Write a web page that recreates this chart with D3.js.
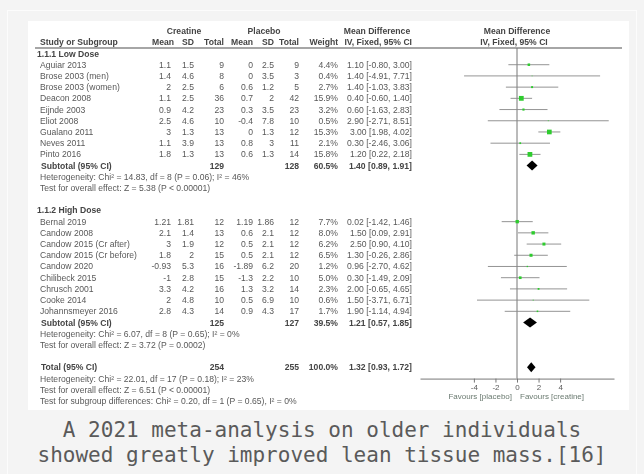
<!DOCTYPE html>
<html>
<head>
<meta charset="utf-8">
<script src="https://cdn.jsdelivr.net/npm/d3@7"></script>
<style>
body { margin: 0; background: #f4f4f4; }
svg { display: block; }
.fig text { font-family: "Liberation Sans", Arial, sans-serif; font-size: 8.6px; fill: #585858; }
.fig text.b { font-weight: bold; fill: #444; }
.fig .axis text { font-size: 8px; fill: #5a5a5a; }
.cap { font-family: "DejaVu Sans Mono", monospace; font-size: 21px; fill: #5a5a5a; }
</style>
</head>
<body>
<svg id="chart" width="644" height="474"></svg>
<script>
// study rows: name, creatine mean/sd/n, placebo mean/sd/n, weight %, MD, lower, upper
const lowDose = [
  ["Aguiar 2013", 1.1, 1.5, 9, 0, 2.5, 9, 4.4, 1.10, -0.80, 3.00],
  ["Brose 2003 (men)", 1.4, 4.6, 8, 0, 3.5, 3, 0.4, 1.40, -4.91, 7.71],
  ["Brose 2003 (women)", 2, 2.5, 6, 0.6, 1.2, 5, 2.7, 1.40, -1.03, 3.83],
  ["Deacon 2008", 1.1, 2.5, 36, 0.7, 2, 42, 15.9, 0.40, -0.60, 1.40],
  ["Eijnde 2003", 0.9, 4.2, 23, 0.3, 3.5, 23, 3.2, 0.60, -1.63, 2.83],
  ["Eliot 2008", 2.5, 4.6, 10, -0.4, 7.8, 10, 0.5, 2.90, -2.71, 8.51],
  ["Gualano 2011", 3, 1.3, 13, 0, 1.3, 12, 15.3, 3.00, 1.98, 4.02],
  ["Neves 2011", 1.1, 3.9, 13, 0.8, 3, 11, 2.1, 0.30, -2.46, 3.06],
  ["Pinto 2016", 1.8, 1.3, 13, 0.6, 1.3, 14, 15.8, 1.20, 0.22, 2.18]
];
const highDose = [
  ["Bernal 2019", 1.21, 1.81, 12, 1.19, 1.86, 12, 7.7, 0.02, -1.42, 1.46],
  ["Candow 2008", 2.1, 1.4, 13, 0.6, 2.1, 12, 8.0, 1.50, 0.09, 2.91],
  ["Candow 2015 (Cr after)", 3, 1.9, 12, 0.5, 2.1, 12, 6.2, 2.50, 0.90, 4.10],
  ["Candow 2015 (Cr before)", 1.8, 2, 15, 0.5, 2.1, 12, 6.5, 1.30, -0.26, 2.86],
  ["Candow 2020", -0.93, 5.3, 16, -1.89, 6.2, 20, 1.2, 0.96, -2.70, 4.62],
  ["Chilibeck 2015", -1, 2.8, 15, -1.3, 2.2, 10, 5.0, 0.30, -1.49, 2.09],
  ["Chrusch 2001", 3.3, 4.2, 16, 1.3, 3.2, 14, 2.3, 2.00, -0.65, 4.65],
  ["Cooke 2014", 2, 4.8, 10, 0.5, 6.9, 10, 0.6, 1.50, -3.71, 6.71],
  ["Johannsmeyer 2016", 2.8, 4.3, 14, 0.9, 4.3, 17, 1.7, 1.90, -1.14, 4.94]
];
// pooled: creatine n, placebo n, weight, MD, lower, upper
const lowSubtotal = [129, 128, 60.5, 1.40, 0.89, 1.91];
const highSubtotal = [125, 127, 39.5, 1.21, 0.57, 1.85];
const overall = [254, 255, 100.0, 1.32, 0.93, 1.72];

const lowStats = ["Heterogeneity: Chi² = 14.83, df = 8 (P = 0.06); I² = 46%", "Test for overall effect: Z = 5.38 (P < 0.00001)"];
const highStats = ["Heterogeneity: Chi² = 6.07, df = 8 (P = 0.65); I² = 0%", "Test for overall effect: Z = 3.72 (P = 0.0002)"];
const totalStats = ["Heterogeneity: Chi² = 22.01, df = 17 (P = 0.18); I² = 23%", "Test for overall effect: Z = 6.51 (P < 0.00001)", "Test for subgroup differences: Chi² = 0.20, df = 1 (P = 0.65), I² = 0%"];

const groupNames = ["1.1.1 Low Dose", "1.1.2 High Dose"];
const colHeaders = ["Mean", "SD", "Total", "Mean", "SD", "Total", "Weight", "IV, Fixed, 95% CI"];
const axisTicks = [-4, -2, 0, 2, 4];
const favours = ["Favours [placebo]", "Favours [creatine]"];
const caption = ["A 2021 meta-analysis on older individuals", "showed greatly improved lean tissue mass.[16]"];

const svg = d3.select('#chart');

// outer frame and white figure panel
svg.append('rect').attr('x', 7.5).attr('y', 10.5).attr('width', 629).attr('height', 470)
  .attr('fill', '#f4f4f4').attr('stroke', '#fcfcfc');
svg.append('rect').attr('x', 28).attr('y', 21).attr('width', 601).attr('height', 389).attr('fill', '#fff');

const defs = svg.append('defs');
defs.append('filter').attr('id', 'soft').append('feGaussianBlur').attr('stdDeviation', 0.4);

const fig = svg.append('g').attr('class', 'fig').attr('filter', 'url(#soft)');

// build the list of rows in order
const rows = [];
function addGroup(name, studies, sub, stats) {
  rows.push({ type: 'group', label: name });
  studies.forEach(s => rows.push({ type: 'study', d: s }));
  rows.push({ type: 'subtotal', label: 'Subtotal (95% CI)', d: sub });
  stats.forEach(t => rows.push({ type: 'note', label: t }));
  rows.push({ type: 'blank' });
}
addGroup(groupNames[0], lowDose, lowSubtotal, lowStats);
addGroup(groupNames[1], highDose, highSubtotal, highStats);
rows.push({ type: 'subtotal', label: 'Total (95% CI)', d: overall });
totalStats.forEach(t => rows.push({ type: 'note', label: t }));

const y = d3.scaleLinear().domain([0, rows.length - 1]).range([53.5, 401]);
const x = d3.scaleLinear().domain([-9, 9]).range([420, 614]);

const colX = [171, 194, 224, 253, 274, 299, 338, 412];
const fmtW = v => v.toFixed(1) + '%';
const fmtCI = (m, l, h) => `${m.toFixed(2)} [${l.toFixed(2)}, ${h.toFixed(2)}]`;

// headers
fig.append('text').attr('class', 'b').attr('x', 184).attr('y', 31).attr('dy', '0.35em').attr('text-anchor', 'middle').text('Creatine');
fig.append('text').attr('class', 'b').attr('x', 264).attr('y', 31).attr('dy', '0.35em').attr('text-anchor', 'middle').text('Placebo');
fig.append('text').attr('class', 'b').attr('x', 377).attr('y', 31).attr('dy', '0.35em').attr('text-anchor', 'middle').text('Mean Difference');
fig.append('text').attr('class', 'b').attr('x', x(0)).attr('y', 31).attr('dy', '0.35em').attr('text-anchor', 'middle').text('Mean Difference');
fig.append('text').attr('class', 'b').attr('x', x(0) - 3).attr('y', 42).attr('dy', '0.35em').attr('text-anchor', 'middle').text('IV, Fixed, 95% CI');
fig.append('text').attr('class', 'b').attr('x', 40).attr('y', 42).attr('dy', '0.35em').text('Study or Subgroup');
colHeaders.forEach((h, i) => {
  fig.append('text').attr('class', 'b').attr('x', colX[i] + (i === 0 ? 3 : 0)).attr('y', 42)
    .attr('dy', '0.35em').attr('text-anchor', 'end').text(h);
});
fig.append('line').attr('x1', 35).attr('x2', 622).attr('y1', 48).attr('y2', 48)
  .attr('stroke', '#888').attr('stroke-width', 1.3);

// zero line
fig.append('line').attr('x1', x(0)).attr('x2', x(0)).attr('y1', 48).attr('y2', y(29))
  .attr('stroke', '#777').attr('stroke-width', 1);

rows.forEach((r, i) => {
  const yy = y(i);
  if (r.type === 'group') {
    fig.append('text').attr('class', 'b').attr('x', 37).attr('y', yy).attr('dy', '0.35em').text(r.label);
  } else if (r.type === 'note') {
    fig.append('text').attr('x', 40).attr('y', yy).attr('dy', '0.35em').text(r.label);
  } else if (r.type === 'study') {
    const d = r.d;
    fig.append('text').attr('x', 40).attr('y', yy).attr('dy', '0.35em').text(d[0]);
    const vals = [String(d[1]), String(d[2]), String(d[3]), String(d[4]), String(d[5]), String(d[6]), fmtW(d[7]), fmtCI(d[8], d[9], d[10])];
    vals.forEach((v, j) => {
      fig.append('text').attr('x', colX[j]).attr('y', yy).attr('dy', '0.35em').attr('text-anchor', 'end').text(v);
    });
    fig.append('line').attr('x1', x(d[9])).attr('x2', x(d[10])).attr('y1', yy).attr('y2', yy)
      .attr('stroke', '#888').attr('stroke-width', 0.9);
    const s = Math.sqrt(d[7]) * 1.2;
    fig.append('rect').attr('x', x(d[8]) - s / 2).attr('y', yy - s / 2).attr('width', s).attr('height', s)
      .attr('fill', '#2ecc2e');
  } else if (r.type === 'subtotal') {
    const d = r.d;
    fig.append('text').attr('class', 'b').attr('x', 41).attr('y', yy).attr('dy', '0.35em').text(r.label);
    fig.append('text').attr('class', 'b').attr('x', colX[2]).attr('y', yy).attr('dy', '0.35em').attr('text-anchor', 'end').text(d[0]);
    fig.append('text').attr('class', 'b').attr('x', colX[5]).attr('y', yy).attr('dy', '0.35em').attr('text-anchor', 'end').text(d[1]);
    fig.append('text').attr('class', 'b').attr('x', colX[6]).attr('y', yy).attr('dy', '0.35em').attr('text-anchor', 'end').text(fmtW(d[2]));
    fig.append('text').attr('class', 'b').attr('x', colX[7]).attr('y', yy).attr('dy', '0.35em').attr('text-anchor', 'end').text(fmtCI(d[3], d[4], d[5]));
    const h = 5;
    fig.append('path')
      .attr('d', `M${x(d[4])},${yy}L${x(d[3])},${yy - h}L${x(d[5])},${yy}L${x(d[3])},${yy + h}Z`)
      .attr('fill', '#000');
  }
});

// axis
const axisY = y(29);
const ax = fig.append('g').attr('class', 'axis').attr('transform', `translate(0,${axisY})`)
  .call(d3.axisBottom(x).tickValues(axisTicks).tickSize(4).tickSizeOuter(0).tickFormat(d => String(d)));
ax.select('.domain').attr('stroke', '#777');
ax.selectAll('.tick line').attr('stroke', '#777');
ax.selectAll('.tick text').attr('dy', '0.5em').attr('font-family', null).attr('font-size', null);

fig.append('text').attr('x', x(0) - 5).attr('y', axisY + 20).attr('text-anchor', 'end')
  .style('font-size', '8px').style('fill', '#6a7a70').text(favours[0]);
fig.append('text').attr('x', x(0) + 3).attr('y', axisY + 20)
  .style('font-size', '8px').style('fill', '#6a7a70').text(favours[1]);

// caption
caption.forEach((c, i) => {
  svg.append('text').attr('class', 'cap').attr('x', 322).attr('y', 437 + i * 25)
    .attr('text-anchor', 'middle').text(c);
});
</script>
</body>
</html>
